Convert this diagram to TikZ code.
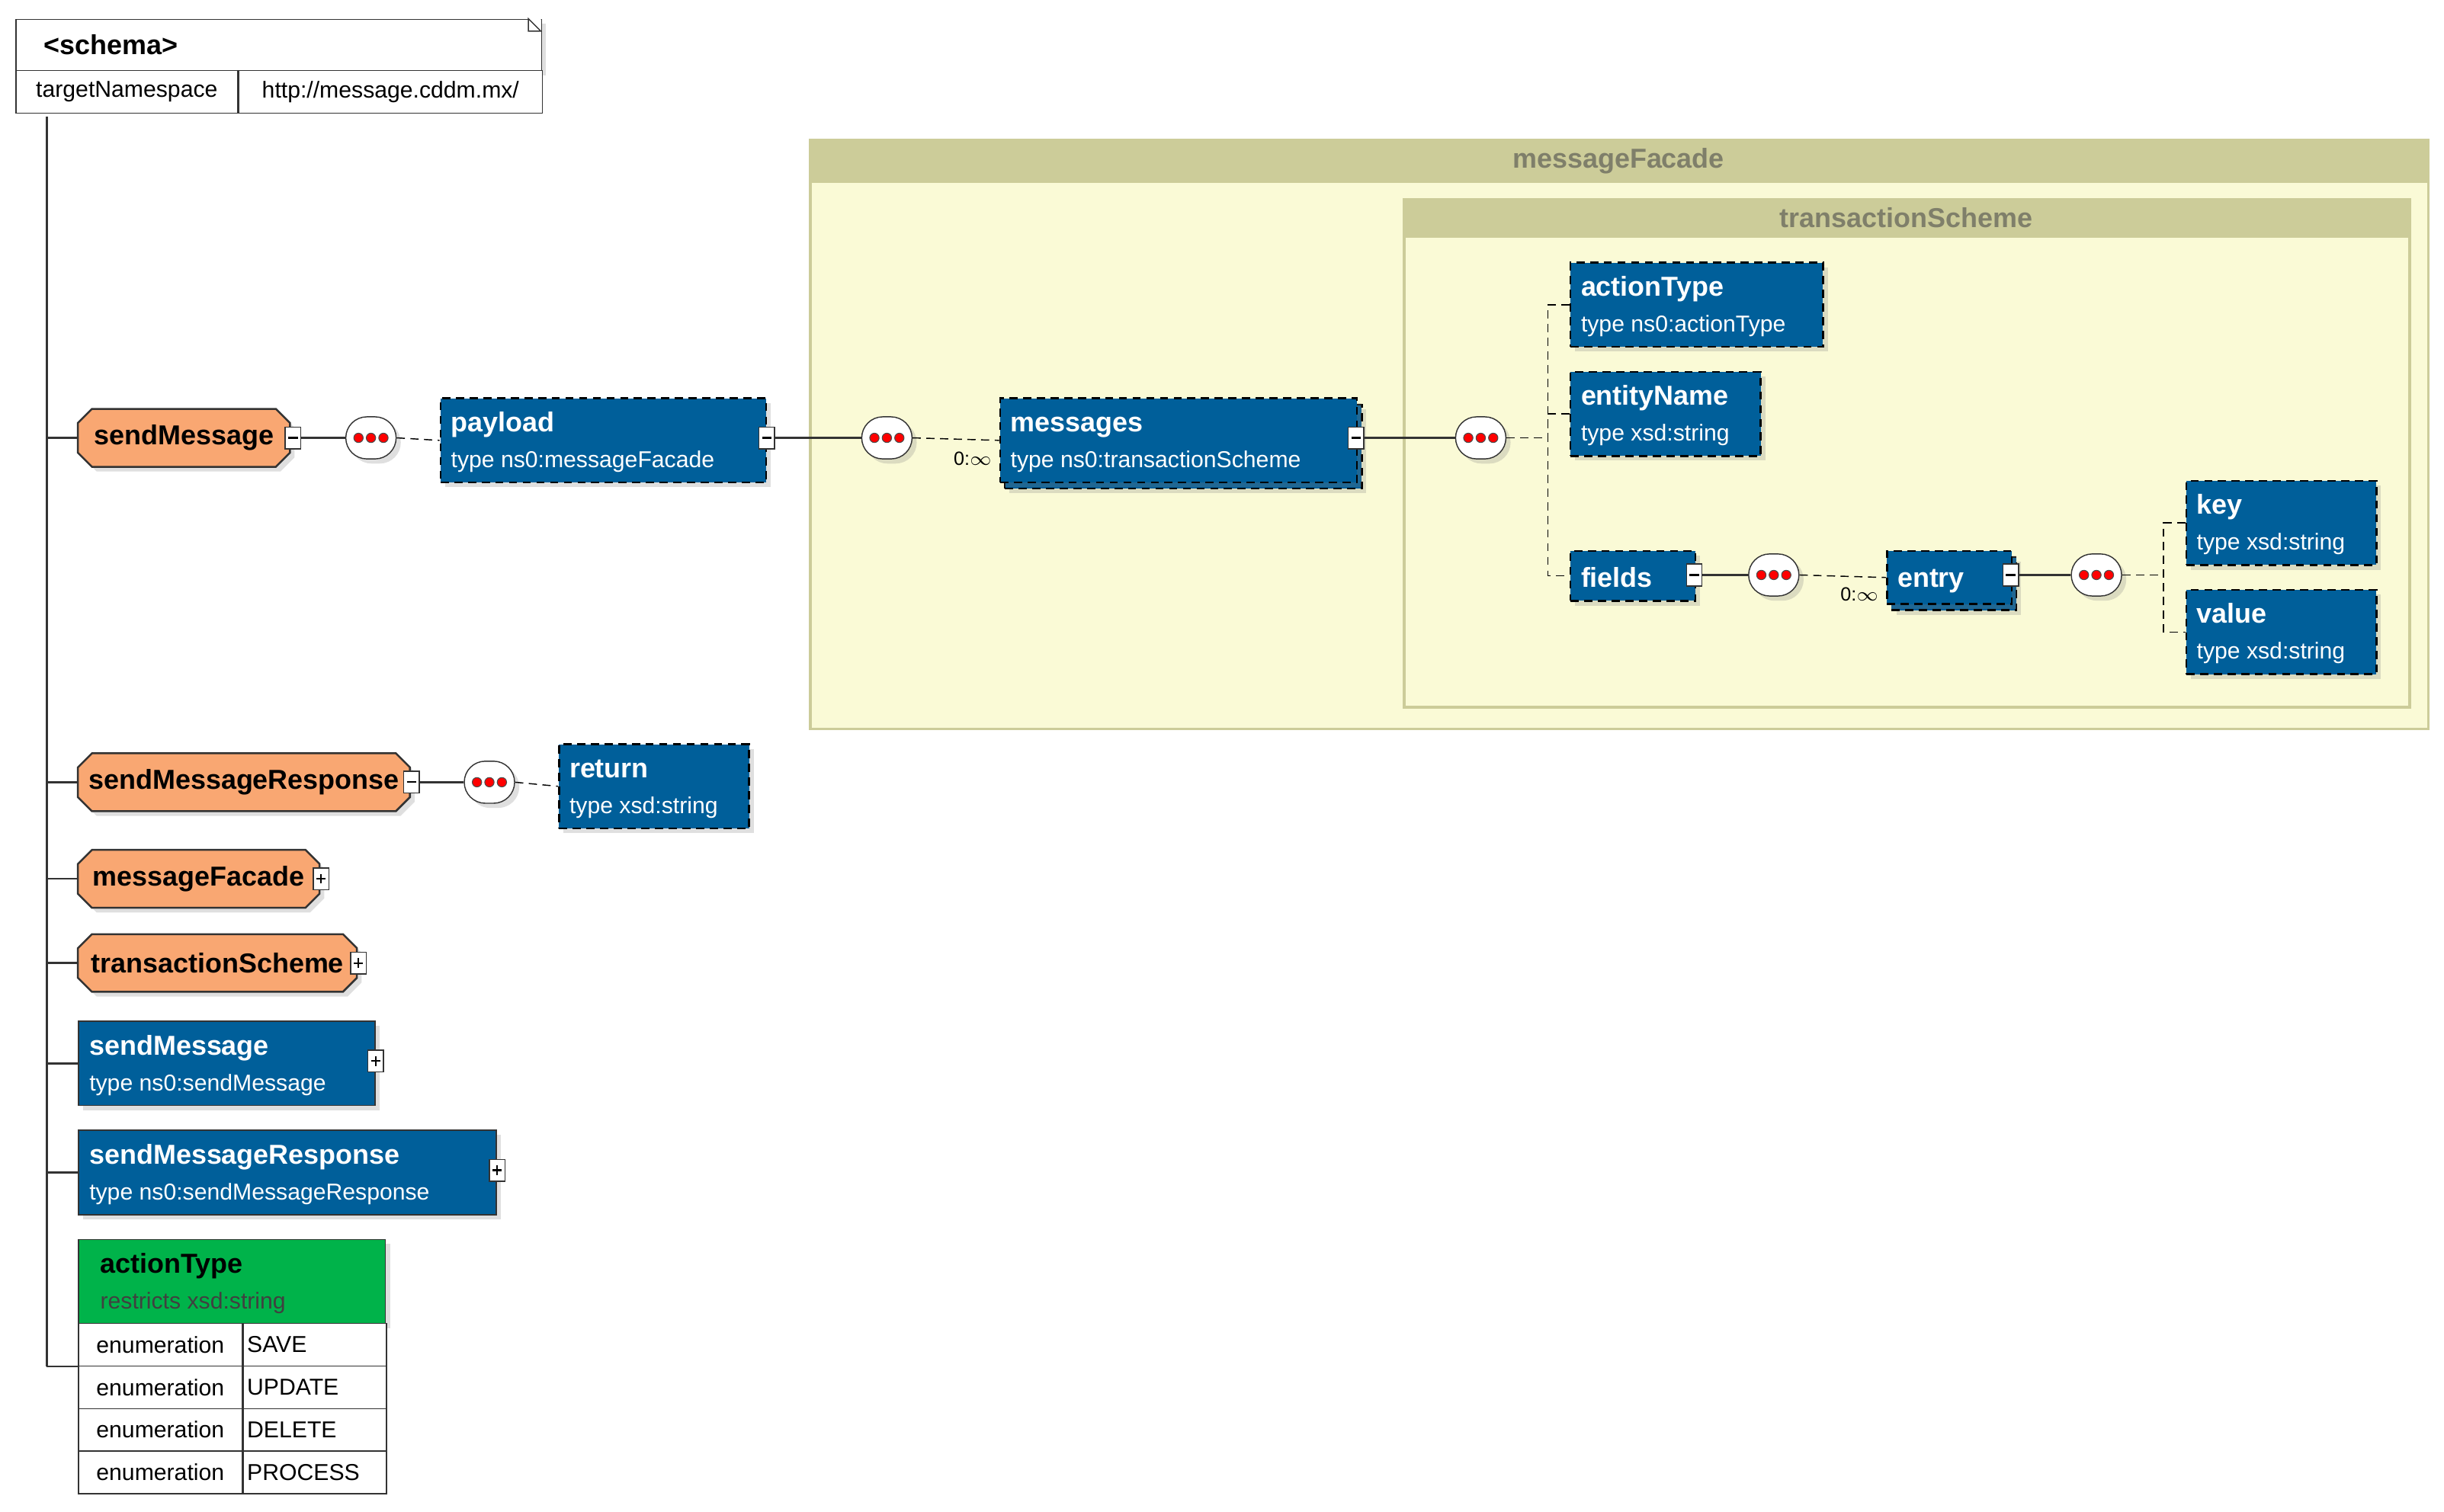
\documentclass[tikz,border=0pt]{standalone}
\usepackage{fontspec}
\setmainfont{Liberation Sans}
\usetikzlibrary{shapes.misc,shadows,positioning}
\definecolor{xsdblue}{HTML}{005F9A}
\definecolor{xsdorange}{HTML}{F9A772}
\definecolor{xsdgreen}{HTML}{00B34A}
\definecolor{grpbody}{HTML}{FAFAD6}
\definecolor{grpband}{HTML}{CCCC99}
\definecolor{grptext}{HTML}{7F7F6A}
\tikzset{
	shade/.style = {drop shadow={opacity=0.25,shadow xshift=0.6mm,shadow yshift=-0.6mm}},
	typed/.style = {rectangle, draw=black, densely dashed, line width=0.7pt, fill=xsdblue, anchor=north west, shade},
	global/.style = {rectangle, draw=black!80, line width=0.5pt, fill=xsdblue, anchor=north west, shade},
	cplx/.style = {chamfered rectangle, chamfered rectangle xsep=0.9mm, chamfered rectangle ysep=0.9mm, draw=black!80, line width=0.7pt,
		fill=xsdorange, minimum height=7.4mm, font=\bfseries, inner xsep=1pt, shade},
	seq/.style = {rounded rectangle, draw=black!80, fill=white, minimum width=8.8mm, minimum height=5.4mm, shade},
	tgl/.style = {rectangle, draw=black!80, fill=white, minimum width=2mm, minimum height=2.8mm, inner sep=0pt},
	head/.style = {anchor=base west, text=white, font=\bfseries, inner xsep=0pt},
	sub/.style = {anchor=base west, text=white, inner xsep=0pt},
	cell/.style = {rectangle, draw=black!80, fill=white, anchor=north west, minimum height=5.46mm, inner sep=0pt},
	card/.style = {font=\scriptsize, anchor=north},
	dots/.style = {fill=red, draw=black!70, line width=0.3pt},
	grp/.style = {rectangle, draw=grpband, line width=1pt, fill=grpbody, anchor=north west},
	band/.style = {rectangle, fill=grpband, anchor=north west, text=grptext, font=\bfseries},
}
% helpers
\newcommand{\seqicon}[2]{%
	\node[seq] (#1) at #2 {};
	\foreach \dx in {-1.6,0,1.6} \filldraw[dots] ([xshift=\dx mm]#1.center) circle (0.6mm);
}
\newcommand{\tglbox}[3]{%
	\node[tgl] (#1) at #2 {};
	\draw[line width=0.6pt] ([xshift=-0.6mm]#1.center) -- ([xshift=0.6mm]#1.center);
	\ifx#3p\draw[line width=0.6pt] ([yshift=-0.6mm]#1.center) -- ([yshift=0.6mm]#1.center);\fi
}
\newcommand{\elem}[7]{% name, x, y, w, h, head, type
	\node[typed, minimum width=#4*0.2mm, minimum height=#5*0.2mm] (#1) at (#2,#3) {};
	\node[head] at ([xshift=1.4mm,yshift=-4.4mm]#1.north west) {#6};
	\node[sub] at ([xshift=1.4mm,yshift=-9mm]#1.north west) {#7};
}

\begin{document}
\begin{tikzpicture}[x=0.2mm, y=-0.2mm, font=\fontsize{8.4}{10}\selectfont]
	\useasboundingbox (0,0) rectangle (1568,970);

	% schema header
	\node[rectangle, draw=black!80, fill=white, anchor=north west, minimum width=67.4mm, minimum height=6.6mm, shade] (schema) at (10,12) {};
	\node[anchor=west, font=\bfseries] at ([xshift=2.4mm]schema.west) {<schema>};
	\fill[white] (339,12) -- (347,12) -- (347,20) -- cycle;
	\draw[black!80] (339,12) -- (347,20) -- (339,20) -- cycle;
	\node[cell, minimum width=28.4mm] (tns) at (10,45) {targetNamespace};
	\node[cell, minimum width=39mm] (tnsval) at (tns.north east) {http://message.cddm.mx/};
	\coordinate (trunk) at (30,75);
	\coordinate (trunkend) at (30,877);
	\draw[black!80, line width=0.7pt] (trunk) -- (trunkend);

	% messageFacade group
	\node[grp, minimum width=207.6mm, minimum height=75.6mm] (mfGrp) at (519,89) {};
	\node[band, minimum width=207.6mm, minimum height=5mm] at (519,89) {messageFacade};
	\node[grp, minimum width=129mm, minimum height=65.2mm] (tsGrp) at (900,127) {};
	\node[band, minimum width=129mm, minimum height=5mm] at (900,127) {transactionScheme};

	% sendMessage element
	\node[cplx, minimum width=27.2mm] (sm) at (118,281) {sendMessage};
	\tglbox{smT}{(188,281)}{m}
	\seqicon{seqA}{(238,281)}
	\elem{payload}{282}{255}{209}{54}{payload}{type ns0:messageFacade}
	\tglbox{payT}{(492,281)}{m}
	\seqicon{seqB}{(569,281)}
	\node[typed, minimum width=45.8mm, minimum height=10.8mm] at (644,259) {};
	\elem{messages}{641}{255}{229}{54}{messages}{type ns0:transactionScheme}
	\node[card] at (624,284) {0:$\infty$};
	\tglbox{msgT}{(870,281)}{m}
	\seqicon{seqC}{(950,281)}
	\elem{actionType}{1007}{168}{162}{54}{actionType}{type ns0:actionType}
	\elem{entityName}{1007}{238}{122}{54}{entityName}{type xsd:string}
	\node[typed, minimum width=16mm, minimum height=6.4mm] (fields) at (1007,353) {};
	\node[head] at ([xshift=1.4mm,yshift=-4.8mm]fields.north west) {fields};
	\tglbox{fldT}{(1087,369)}{m}
	\seqicon{seqD}{(1138,369)}
	\node[typed, minimum width=16mm, minimum height=6.8mm] at (1213,357) {};
	\node[typed, minimum width=16mm, minimum height=6.8mm] (entry) at (1210,353) {};
	\node[head] at ([xshift=1.4mm,yshift=-4.8mm]entry.north west) {entry};
	\node[card] at (1193,371) {0:$\infty$};
	\tglbox{entT}{(1290,369)}{m}
	\seqicon{seqE}{(1345,369)}
	\elem{key}{1402}{308}{122}{54}{key}{type xsd:string}
	\elem{value}{1402}{378}{122}{54}{value}{type xsd:string}

	\draw[black!80, line width=0.7pt] (trunk |- sm.west) -- (sm.west);
	\draw[black!80, line width=0.7pt] (smT.east) -- (seqA.west);
	\draw[densely dashed] (seqA.east) -- (payload.west);
	\draw[black!80, line width=0.7pt] (payT.east) -- (seqB.west);
	\draw[densely dashed] (seqB.east) -- (messages.west);
	\draw[black!80, line width=0.7pt] (msgT.east) -- (seqC.west);
	\coordinate (forkC) at (993,281);
	\draw[densely dashed] (seqC.east) -- (forkC);
	\draw[densely dashed] (actionType.west) -| (forkC) |- (fields.west);
	\draw[densely dashed] (entityName.west) -| (forkC);
	\draw[black!80, line width=0.7pt] (fldT.east) -- (seqD.west);
	\draw[densely dashed] (seqD.east) -- (entry.west);
	\draw[black!80, line width=0.7pt] (entT.east) -- (seqE.west);
	\coordinate (forkE) at (1388,369);
	\draw[densely dashed] (seqE.east) -- (forkE);
	\draw[densely dashed] (key.west) -| (forkE) |- (value.west);

	% sendMessageResponse element
	\node[cplx, minimum width=42.6mm] (smr) at (156.5,502) {sendMessageResponse};
	\tglbox{smrT}{(264,502)}{m}
	\seqicon{seqF}{(314,502)}
	\elem{return}{358}{477}{122}{54}{return}{type xsd:string}
	\draw[black!80, line width=0.7pt] (trunk |- smr.west) -- (smr.west);
	\draw[black!80, line width=0.7pt] (smrT.east) -- (seqF.west);
	\draw[densely dashed] (seqF.east) -- (return.west);

	% complex types
	\node[cplx, minimum width=31mm] (mf) at (127.5,564) {messageFacade};
	\tglbox{mfT}{(206,564)}{p}
	\node[cplx, minimum width=35.8mm] (ts) at (139.5,618) {transactionScheme};
	\tglbox{tsT}{(230,618)}{p}
	\draw[black!80, line width=0.7pt] (trunk |- mf.west) -- (mf.west);
	\draw[black!80, line width=0.7pt] (trunk |- ts.west) -- (ts.west);

	% global elements
	\node[global, minimum width=38mm, minimum height=10.8mm] (gsm) at (50,655) {};
	\node[head] at ([xshift=1.4mm,yshift=-4.4mm]gsm.north west) {sendMessage};
	\node[sub] at ([xshift=1.4mm,yshift=-9mm]gsm.north west) {type ns0:sendMessage};
	\tglbox{gsmT}{(241,681)}{p}
	\node[global, minimum width=53.6mm, minimum height=10.8mm] (gsmr) at (50,725) {};
	\node[head] at ([xshift=1.4mm,yshift=-4.4mm]gsmr.north west) {sendMessageResponse};
	\node[sub] at ([xshift=1.4mm,yshift=-9mm]gsmr.north west) {type ns0:sendMessageResponse};
	\tglbox{gsmrT}{(319,751)}{p}
	\draw[black!80, line width=0.7pt] (trunk |- gsm.west) -- (gsm.west);
	\draw[black!80, line width=0.7pt] (trunk |- gsmr.west) -- (gsmr.west);

	% simple type
	\node[rectangle, draw=black!80, fill=xsdgreen, anchor=north west, minimum width=39.4mm, minimum height=10.8mm, shade] (act) at (50,795) {};
	\node[head, text=black] at ([xshift=2.8mm,yshift=-4.4mm]act.north west) {actionType};
	\node[sub, text=black!75] at ([xshift=2.8mm,yshift=-9mm]act.north west) {restricts xsd:string};
	\foreach \v [count=\i] in {SAVE,UPDATE,DELETE,PROCESS} {
		\node[cell, minimum width=21mm] (enum\i) at (50,{849+(\i-1)*27.3}) {enumeration};
		\node[cell, minimum width=18.4mm, text width=17.4mm, align=left] at (enum\i.north east) {\v};
	}
	\draw[black!80, line width=0.7pt] (trunkend) -- (trunkend -| enum1.west);
\end{tikzpicture}
\end{document}
